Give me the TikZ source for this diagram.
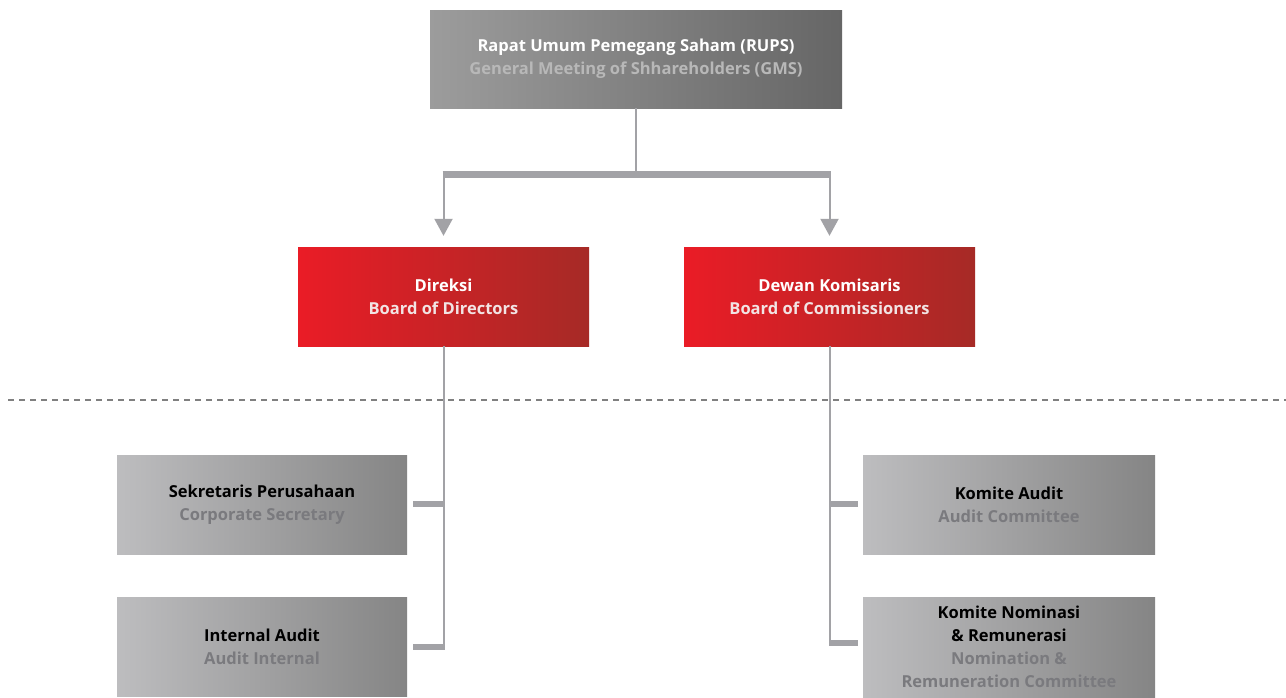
\documentclass[tikz,border=0pt]{standalone}
\usepackage{fontspec}
\setmainfont{Open Sans}
\usetikzlibrary{arrows.meta}
\definecolor{lnc}{HTML}{A2A2A6}
\definecolor{redL}{HTML}{EA1C26}
\definecolor{redR}{HTML}{A62A26}
\definecolor{gL}{HTML}{BDBDBF}
\definecolor{gR}{HTML}{858585}
\definecolor{tL}{HTML}{9C9C9C}
\definecolor{tR}{HTML}{666666}
\definecolor{subg}{HTML}{7A7A7E}
\definecolor{subt}{HTML}{B8B8B8}
\definecolor{subr}{HTML}{F2E4E4}
\tikzset{
  box/.style={minimum width=291pt, minimum height=99pt, inner sep=0pt, align=center,
    font=\fontsize{16.5}{23}\selectfont\bfseries},
  topbox/.style={box, minimum width=412pt, minimum height=98pt, left color=tL, right color=tR, text=white},
  redbox/.style={box, left color=redL, right color=redR, text=white},
  graybox/.style={box, left color=gL, right color=gR, text=black},
  thinln/.style={draw=lnc, line width=2pt},
  thickln/.style={draw=lnc, line width=7pt},
  stubln/.style={draw=lnc, line width=6pt},
  arr/.style={draw=lnc, line width=2pt, -{Triangle[width=18pt,length=17pt]}},
  sep/.style={draw=black!50, line width=1.2pt, dash pattern=on 6pt off 5pt}
}
\begin{document}
\begin{tikzpicture}[x=1pt,y=-1pt]
\useasboundingbox[fill=white] (0,0) rectangle (1286,697);
\node[topbox] (rups) at (636,59) {Rapat Umum Pemegang Saham (RUPS)\\{\color{subt}General Meeting of Shhareholders (GMS)}};
\node[redbox] (dir) at (443.5,296.5) {Direksi\\{\color{subr}Board of Directors}};
\node[redbox] (dk) at (829.5,296.5) {Dewan Komisaris\\{\color{subr}Board of Commissioners}};
\node[graybox, minimum width=290pt] (sek) at (262,505) {Sekretaris Perusahaan\\{\color{subg}Corporate Secretary}};
\node[graybox, minimum width=290pt] (ia) at (262,647) {Internal Audit\\{\color{subg}Audit Internal}};
\node[graybox, minimum width=292pt] (ka) at (1009,505) {Komite Audit\\{\color{subg}Audit Committee}};
\node[graybox, minimum width=292pt, minimum height=100pt] (kn) at (1009,647) {Komite Nominasi\\\&~Remunerasi\\{\color{subg}Nomination \&}\\{\color{subg}Remuneration Committee}};
% top connectors
\coordinate (bar) at (636,174);
\coordinate (barL) at (dir.north |- bar);
\coordinate (barR) at (dk.north |- bar);
\draw[thinln] (rups.south) -- (bar);
\draw[thickln] ([xshift=-1pt]barL) -- ([xshift=1pt]barR);
\draw[arr, shorten >=11pt] (barL) -- (dir.north);
\draw[arr, shorten >=11pt] (barR) -- (dk.north);
% separator
\coordinate (sepL) at (8,400);
\coordinate (sepR) at (1286,400);
\draw[sep] (sepL) -- (sepR);
% left tree
\coordinate (lv1) at ([yshift=1pt]dir.south |- sek.east);
\coordinate (lv2) at (dir.south |- ia.east);
\draw[thinln] (dir.south) -- ([yshift=-3pt]lv2);
\draw[stubln] ([xshift=6pt]sek.east |- lv1) -- ([xshift=1pt]lv1);
\draw[stubln] ([xshift=6pt]ia.east) -- ([xshift=1pt]lv2);
% right tree
\coordinate (rv1) at ([yshift=1pt]dk.south |- ka.west);
\coordinate (rv2) at ([yshift=4pt]dk.south |- kn.west);
\draw[thinln] (dk.south) -- ([yshift=-3pt]rv2);
\draw[stubln] ([xshift=-5pt]ka.west |- rv1) -- ([xshift=-1pt]rv1);
\draw[stubln] ([xshift=-5pt]kn.west |- rv2) -- ([xshift=-1pt]rv2);
\end{tikzpicture}
\end{document}
